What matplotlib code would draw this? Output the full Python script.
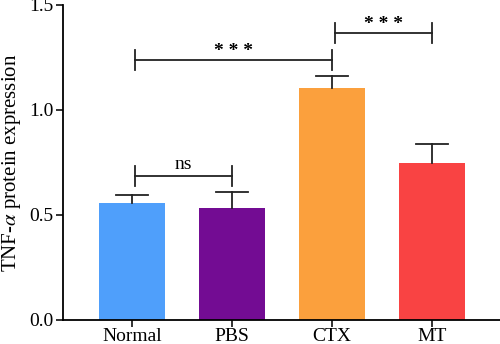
import matplotlib
matplotlib.use("Agg")
import matplotlib.pyplot as plt

plt.rcParams['font.family'] = ['Liberation Serif', 'DejaVu Serif']
plt.rcParams['mathtext.fontset'] = 'stix'

groups = ["Normal", "PBS", "CTX", "MT"]
means = [0.556, 0.535, 1.106, 0.746]
sems = [0.039, 0.076, 0.056, 0.092]
colors = ["#4f9ffb", "#730c93", "#fba03d", "#f94343"]

# significance brackets: (left group, right group, height, label)
brackets = [
    (0, 1, 0.686, "ns"),
    (0, 2, 1.238, "***"),
    (2, 3, 1.368, "***"),
]

ink = '#222222'
fig = plt.figure(figsize=(5, 3.44), dpi=100)
ax = fig.add_axes([0.126, 0.0698, 0.874, 0.9157])

x = list(range(len(groups)))
ax.bar(x, means, width=0.66, color=colors, zorder=2)

# upper-only error bars with a cap
cap = 0.16
for xi, m, s in zip(x, means, sems):
    ax.plot([xi, xi], [m, m + s], color=ink, lw=1.3, zorder=3)
    ax.plot([xi - cap, xi + cap], [m + s, m + s], color=ink, lw=1.3, zorder=3)

tick_h = 0.048
for a, b, h, label in brackets:
    left = a + 0.03
    ax.plot([left, b], [h, h], color=ink, lw=1.3)
    for xx in (left, b):
        ax.plot([xx, xx], [h - tick_h, h + tick_h], color=ink, lw=1.3)
    if label == "ns":
        ax.text((left + b) / 2, h + 0.012, label, ha='center', va='bottom',
                fontsize=14)
    else:
        ax.text((left + b) / 2, h + 0.0, "* * *", ha='center', va='bottom',
                fontsize=14, fontweight='bold')

ax.set_xlim(-0.69, 3.68)
ax.set_ylim(0, 1.5)
ax.set_yticks([0, 0.5, 1.0, 1.5])
ax.set_yticklabels(["0.0", "0.5", "1.0", "1.5"])
ax.set_xticks(x)
ax.set_xticklabels(groups)
ax.tick_params(labelsize=14, width=1.3, length=5, color=ink, pad=2)
ax.tick_params(axis='x', pad=1)
ax.set_ylabel(r"TNF-$\alpha$ protein expression", fontsize=15, labelpad=4)

for side in ('top', 'right'):
    ax.spines[side].set_visible(False)
for side in ('left', 'bottom'):
    ax.spines[side].set_linewidth(1.3)

fig.savefig("out.png", dpi=100)
